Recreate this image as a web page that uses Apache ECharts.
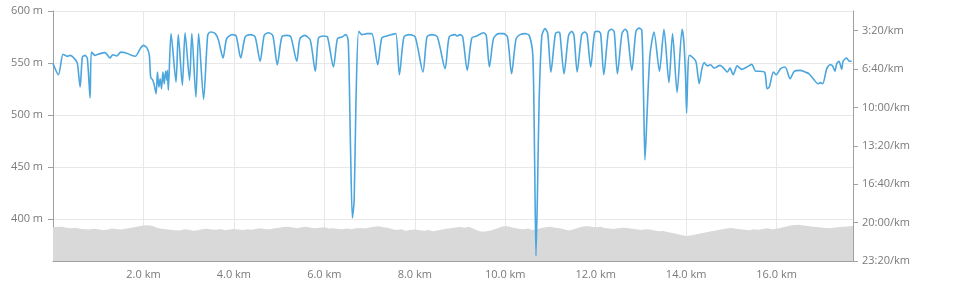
<!DOCTYPE html>
<html><head><meta charset="utf-8">
<script src="https://cdn.jsdelivr.net/npm/echarts@6/dist/echarts.min.js"></script>
<style>html,body{margin:0;padding:0;background:#fff}#c{width:963px;height:306px}</style>
</head><body><div id="c"></div>
<script>
// pace track: distance (km) and pace (seconds per km)
var paceKm = [0.0,0.12,0.22,0.27,0.32,0.38,0.49,0.54,0.60,0.65,0.71,0.76,0.82,0.85,0.93,1.04,1.15,1.26,1.32,1.41,1.50,1.60,1.71,1.82,1.93,2.00,2.08,2.13,2.16,2.21,2.24,2.28,2.31,2.34,2.37,2.40,2.43,2.46,2.49,2.52,2.53,2.55,2.61,2.72,2.77,2.86,2.92,3.02,3.07,3.16,3.22,3.33,3.42,3.48,3.59,3.66,3.76,3.84,3.96,4.05,4.15,4.25,4.36,4.47,4.58,4.67,4.76,4.86,4.96,5.06,5.17,5.26,5.39,5.46,5.57,5.69,5.80,5.87,5.98,6.07,6.20,6.29,6.39,6.48,6.53,6.58,6.62,6.66,6.70,6.76,6.83,6.94,7.05,7.18,7.27,7.38,7.49,7.58,7.66,7.76,7.88,8.01,8.18,8.27,8.38,8.50,8.67,8.76,8.89,8.94,9.00,9.06,9.16,9.26,9.37,9.52,9.58,9.65,9.74,9.85,9.96,10.05,10.14,10.24,10.33,10.44,10.53,10.61,10.65,10.68,10.71,10.75,10.81,10.88,10.94,11.01,11.11,11.18,11.21,11.30,11.40,11.47,11.52,11.59,11.69,11.76,11.81,11.89,11.98,12.06,12.11,12.18,12.28,12.35,12.41,12.48,12.58,12.65,12.70,12.80,12.89,12.96,13.02,13.06,13.09,13.14,13.20,13.29,13.41,13.51,13.62,13.70,13.80,13.91,13.95,13.99,14.01,14.04,14.07,14.16,14.22,14.29,14.35,14.40,14.47,14.54,14.62,14.75,14.84,14.91,14.97,15.04,15.13,15.23,15.34,15.45,15.54,15.63,15.74,15.79,15.84,15.93,15.99,16.09,16.19,16.30,16.39,16.52,16.63,16.72,16.81,16.92,16.97,17.02,17.11,17.18,17.24,17.29,17.33,17.38,17.44,17.47,17.55,17.61,17.66];
var paceSec = [372,430,324,329,334,329,350,372,494,338,329,346,551,312,329,320,315,343,326,332,312,315,326,334,294,277,291,329,442,459,485,529,416,494,451,503,416,477,412,459,407,511,216,468,221,485,211,459,216,546,216,558,225,207,216,251,343,242,221,228,343,233,221,233,360,225,211,225,378,233,225,233,360,242,225,251,412,239,228,233,390,242,233,221,259,822,1176,1082,562,204,221,216,216,378,239,228,221,216,430,233,221,233,416,233,221,233,398,233,221,228,221,233,407,239,228,211,225,390,242,216,216,233,425,242,221,216,225,329,874,1374,1082,561,225,190,216,416,216,207,216,425,225,204,225,416,221,207,221,390,207,204,216,430,207,193,207,425,216,193,207,407,204,187,199,561,874,614,329,207,412,193,471,216,523,193,259,457,629,405,329,343,364,476,398,367,384,378,395,381,398,416,395,430,384,402,390,376,412,412,419,503,494,416,430,398,390,451,412,407,416,425,451,477,471,477,398,378,384,412,372,360,402,360,343,360,360];
// elevation profile: distance (km) and altitude (m)
var elevKm = [0.0,0.1,0.2,0.3,0.4,0.5,0.6,0.7,0.8,0.9,1.0,1.1,1.2,1.3,1.4,1.5,1.6,1.7,1.8,1.9,2.0,2.1,2.2,2.3,2.4,2.5,2.6,2.7,2.8,2.9,3.0,3.1,3.2,3.3,3.4,3.5,3.6,3.7,3.8,3.9,4.0,4.1,4.2,4.3,4.4,4.5,4.6,4.7,4.8,4.9,5.0,5.1,5.2,5.3,5.4,5.5,5.6,5.7,5.8,5.9,6.0,6.1,6.2,6.3,6.4,6.5,6.6,6.7,6.8,6.9,7.0,7.1,7.2,7.3,7.4,7.5,7.6,7.7,7.8,7.9,8.0,8.1,8.2,8.3,8.4,8.5,8.6,8.7,8.8,8.9,9.0,9.1,9.2,9.3,9.4,9.5,9.6,9.7,9.8,9.9,10.0,10.1,10.2,10.3,10.4,10.5,10.6,10.7,10.8,10.9,11.0,11.1,11.2,11.3,11.4,11.5,11.6,11.7,11.8,11.9,12.0,12.1,12.2,12.3,12.4,12.5,12.6,12.7,12.8,12.9,13.0,13.1,13.2,13.3,13.4,13.5,13.6,13.7,13.8,13.9,14.0,14.1,14.2,14.3,14.4,14.5,14.6,14.7,14.8,14.9,15.0,15.1,15.2,15.3,15.4,15.5,15.6,15.7,15.8,15.9,16.0,16.1,16.2,16.3,16.4,16.5,16.6,16.7,16.8,16.9,17.0,17.1,17.2,17.3,17.4,17.5,17.6,17.69];
var elevM = [392.5,393,392.8,392,391.5,391.9,391,390.4,390.2,391,390.5,389.8,390,391.2,390.8,390.2,391,391.8,392.5,393.4,394,394.3,393.5,392,391,390.6,390,389.5,389.2,390.4,390,389,389.5,390.6,391,390.2,390,390.8,389.5,390.2,390.8,390.2,389.8,390.6,390,391,391.5,390.6,390.5,391.4,392,392.6,393,392.2,391.5,392.4,392.8,392,391.5,391.9,392.3,391.2,391.5,390.8,390.5,391.2,390.6,391.4,391.8,391.2,392.2,393,393.3,392.4,392,390.6,389.8,390.4,389,389.8,390.3,389.6,389,389.8,388.5,389.4,390.2,391,391.5,392.2,392.6,392,393,391,389,388.2,388.5,389.6,391,392.6,393.5,392.8,391.7,391,390.5,391.2,389.8,390.6,391.6,392.4,392.8,392,391.5,390.4,389.3,390.2,391.8,393,393.6,393,392.5,392.9,391.6,391.2,390.7,391.5,392,391.6,391,390.4,389.8,390.6,390.3,389.2,388.5,388.8,387.5,386.8,386,385,384,384.6,385.5,386.4,387.2,388,388.7,389.6,390.5,391.2,391.8,391,390.6,390,389.5,390.4,390,390.8,391.4,390.6,391,392,392.8,394,394.6,394.8,394.2,393.6,393,392.6,392,391.6,391.4,392.2,392.6,393,393.3,393.6];

function fmtPace(v){var m=Math.floor(v/60),s=Math.round(v-m*60);return m+':'+(s<10?'0':'')+s+'/km';}
var paceData = paceKm.map(function(k,i){return [k,paceSec[i]];});
var elevData = elevKm.map(function(k,i){return [k,elevM[i]];});
var font = '"Open Sans", "Noto Sans", sans-serif';
var axisCol = '#a0a0a0', labCol = '#7a7a7a';
var chart = echarts.init(document.getElementById('c'), null, {renderer:'canvas'});
chart.setOption({
  animation:false,
  backgroundColor:'#fff',
  grid:{left:53,right:110,top:11,bottom:45,containLabel:false},
  xAxis:{type:'value',min:0,max:17.69,interval:2,
    axisLine:{show:true,lineStyle:{color:axisCol}},
    axisTick:{show:false},
    axisLabel:{color:labCol,fontFamily:font,fontSize:11,margin:8,showMinLabel:false,showMaxLabel:false,
      formatter:function(v){return v.toFixed(1)+' km';}},
    splitLine:{show:true,lineStyle:{color:'#e8e8e8'}}},
  yAxis:[
    {type:'value',min:360,max:600,minInterval:50,maxInterval:50,position:'left',
     axisLine:{show:true,lineStyle:{color:axisCol}},
     axisTick:{show:true,length:5,lineStyle:{color:axisCol}},
     axisLabel:{color:labCol,fontFamily:font,fontSize:11,margin:10,showMinLabel:false,formatter:'{value} m'},
     splitLine:{show:true,lineStyle:{color:'#e8e8e8'}}},
    {type:'value',min:98,max:1400,inverse:true,minInterval:200,maxInterval:200,position:'right',
     axisLine:{show:true,lineStyle:{color:axisCol}},
     axisTick:{show:true,length:5,lineStyle:{color:axisCol}},
     axisLabel:{color:labCol,fontFamily:font,fontSize:11,margin:9,showMinLabel:false,showMaxLabel:true,formatter:fmtPace},
     splitLine:{show:false}}
  ],
  series:[
    {type:'line',yAxisIndex:0,data:elevData,symbol:'none',silent:true,
     lineStyle:{width:0,opacity:0},areaStyle:{color:'#d9d9d9',opacity:1,origin:'start'},z:1},
    {type:'line',yAxisIndex:1,data:paceData,symbol:'none',silent:true,smooth:0.25,
     lineStyle:{color:'#4ca6de',width:1.6},z:2}
  ]
});
</script></body></html>
